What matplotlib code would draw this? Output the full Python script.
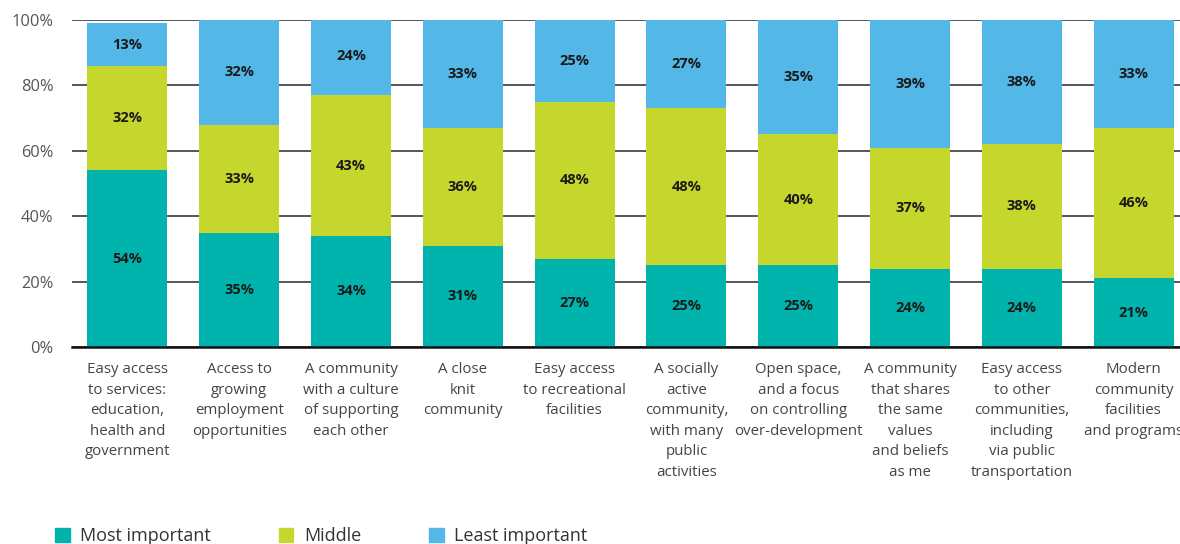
import numpy as np
import matplotlib.pyplot as plt
from matplotlib.patches import Patch

plt.rcParams['font.family'] = ['Open Sans', 'DejaVu Sans']

categories = [
    "Easy access\nto services:\neducation,\nhealth and\ngovernment",
    "Access to\ngrowing\nemployment\nopportunities",
    "A community\nwith a culture\nof supporting\neach other",
    "A close\nknit\ncommunity",
    "Easy access\nto recreational\nfacilities",
    "A socially\nactive\ncommunity,\nwith many\npublic\nactivities",
    "Open space,\nand a focus\non controlling\nover-development",
    "A community\nthat shares\nthe same\nvalues\nand beliefs\nas me",
    "Easy access\nto other\ncommunities,\nincluding\nvia public\ntransportation",
    "Modern\ncommunity\nfacilities\nand programs",
]
most = [54, 35, 34, 31, 27, 25, 25, 24, 24, 21]
middle = [32, 33, 43, 36, 48, 48, 40, 37, 38, 46]
least = [13, 32, 24, 33, 25, 27, 35, 39, 38, 33]

series = [("Most important", most, "#00b4ad"),
          ("Middle", middle, "#c5d72d"),
          ("Least important", least, "#53b8e8")]

fig = plt.figure(figsize=(11.8, 5.44), dpi=100)
ax = fig.add_axes([72 / 1180, 1 - 347 / 544, 1 - 72 / 1180, 327 / 544])

x = np.arange(len(categories))
bottom = np.zeros(len(categories))
for name, vals, color in series:
    vals = np.array(vals, dtype=float)
    ax.bar(x, vals, width=0.716, bottom=bottom, color=color, label=name,
           zorder=3, linewidth=0)
    for xi, b, v in zip(x, bottom, vals):
        ax.text(xi, b + v / 2, f"{int(v)}%", ha='center', va='center',
                fontsize=10.5, fontweight='bold', color='#1a1a1a', zorder=4)
    bottom += vals

ax.set_xlim(-0.496, -0.496 + 1108 / 111.8)
ax.set_ylim(0, 100)
ax.set_yticks(range(0, 101, 20))
ax.set_yticklabels([f"{v}%" for v in range(0, 101, 20)])
ax.yaxis.grid(True, color='#3a3a3a', linewidth=1.2, zorder=0)
ax.set_axisbelow(True)
ax.axhline(0, color='#111111', linewidth=1.8, zorder=5, clip_on=False)
ax.set_xticks(x)
ax.set_xticklabels(categories, fontsize=10.8, color='#444444',
                   linespacing=1.5)
ax.tick_params(axis='x', length=0, pad=11)
ax.tick_params(axis='y', length=0, pad=13.5, labelsize=11.8,
               labelcolor='#555555')
for s in ax.spines.values():
    s.set_visible(False)

handles = [Patch(color=c, label=n) for n, _, c in series]
fig.legend(handles=handles, loc='lower left', bbox_to_anchor=(0.033, -0.032),
           ncol=3, frameon=False, fontsize=13, handlelength=0.8,
           handleheight=0.8, handletextpad=0.6, columnspacing=3.75,
           labelcolor='#333333')

fig.savefig("out.png", dpi=100)
